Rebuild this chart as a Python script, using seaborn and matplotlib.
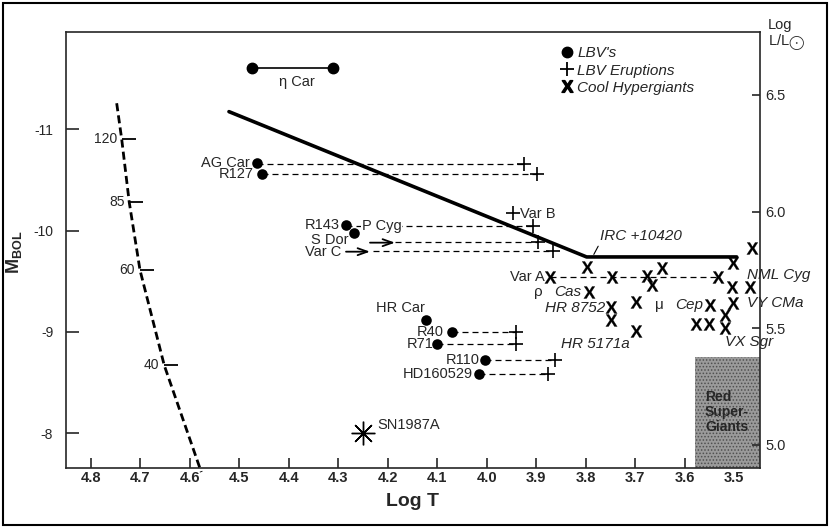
import matplotlib
matplotlib.use('Agg')
import matplotlib.pyplot as plt
from matplotlib.lines import Line2D
from matplotlib.patches import Rectangle
from matplotlib.ticker import FormatStrFormatter
import pandas as pd
import seaborn as sns

# zero-age main sequence track and its mass marks
zams_logt = [4.748, 4.7379, 4.7226, 4.7009, 4.6518, 4.577]
zams_mbol = [-11.257, -10.904, -10.279, -9.611, -8.670, -7.617]
mass_labels = ['120', '85', '60', '40']
mass_logt = [4.7379, 4.7226, 4.7009, 4.6518]
mass_mbol = [-10.904, -10.279, -9.611, -8.670]

# Humphreys-Davidson limit
hd_logt = [4.521, 3.798, 3.4945]
hd_mbol = [-11.174, -9.74, -9.74]

# eta Car
etacar_logt = [4.4747, 4.3117]
etacar_mbol = [-11.60, -11.60]

# LBVs in quiescence
lbv_names = ['AG Car', 'R127', 'R143', 'S Dor', 'HR Car', 'R40', 'R71', 'R110', 'HD160529']
lbv_logt = [4.465, 4.4549, 4.2844, 4.2677, 4.1227, 4.0707, 4.0998, 4.0034, 4.0149]
lbv_mbol = [-10.664, -10.559, -10.055, -9.973, -9.117, -9.002, -8.878, -8.723, -8.584]

# LBV eruptions (connector start -> eruption position)
erup_names = ['AG Car', 'R127', 'P Cyg', 'S Dor', 'Var C', 'Var B', 'R40', 'R71', 'R110', 'HD160529']
erup_start = [4.465, 4.4549, 4.2844, 4.1854, 4.2299, None, 4.0707, 4.0998, 4.0034, 4.0149]
erup_logt = [3.9239, 3.8989, 3.9057, 3.8956, 3.8653, 3.9462, 3.9407, 3.9407, 3.8619, 3.8754]
erup_mbol = [-10.66, -10.559, -10.05, -9.89, -9.795, -10.177, -9.002, -8.878, -8.723, -8.584]

# arrows for S Dor and Var C
arrow_names = ['Var C', 'S Dor']
arrow_start = [4.2844, 4.2359]
arrow_end = [4.2359, 4.1854]
arrow_mbol = [-9.792, -9.881]

# cool hypergiants
hyp_names = ['IRC +10420', 'Var A', '', '', '', '', '', 'Cas', 'HR 8752', '', '', 'HR 5171a',
             'Cep', '', '', '', 'VX Sgr', 'VY CMa', 'NML Cyg', '', '', '']
hyp_logt = [3.7966, 3.872, 3.7472, 3.6765, 3.5329, 3.6461, 3.6664, 3.7925, 3.7486, 3.7486,
            3.6991, 3.6991, 3.5485, 3.5774, 3.5499, 3.5182, 3.5182, 3.5014, 3.5014, 3.5046,
            3.4676, 3.4642]
hyp_mbol = [-9.644, -9.545, -9.545, -9.552, -9.545, -9.634, -9.463, -9.397, -9.246, -9.113,
            -9.292, -9.009, -9.266, -9.075, -9.075, -9.167, -9.036, -9.282, -9.677, -9.446,
            -9.446, -9.831]
vara_logt = [3.872, 3.5329]
vara_mbol = [-9.545, -9.545]

# SN 1987A progenitor
sn_logt = [4.2507]
sn_mbol = [-8.005]

# red supergiant region
rsg_logt_edge = 3.579
rsg_mbol_top = -8.755

xticks = [4.8, 4.7, 4.6, 4.5, 4.4, 4.3, 4.2, 4.1, 4.0, 3.9, 3.8, 3.7, 3.6, 3.5]
yticks = [-11, -10, -9, -8]
lticks = [5.0, 5.5, 6.0, 6.5]

sns.set_style('ticks')
plt.rcParams['font.family'] = ['Liberation Sans', 'DejaVu Sans']
plt.rcParams['mathtext.fontset'] = 'custom'
plt.rcParams['mathtext.rm'] = 'Liberation Sans'
plt.rcParams['mathtext.bf'] = 'Liberation Sans:bold'
plt.rcParams['mathtext.it'] = 'Liberation Sans:italic'
plt.rcParams['axes.unicode_minus'] = False
plt.rcParams['hatch.linewidth'] = 0.7

XMARK = r'$\mathbf{X}$'

fig = plt.figure(figsize=(8.3, 5.28), dpi=100)
ax = fig.add_axes([0.0792, 0.1136, 0.8365, 0.8258])
xlim = (4.851, 3.4474)
ylim = (-7.657, -11.96)

# red supergiants box
ax.fill_betweenx([rsg_mbol_top, ylim[0]], rsg_logt_edge, xlim[1], facecolor='#9a9a9a',
                 edgecolor='#505050', hatch='.....', linewidth=0, zorder=1)
ax.text(rsg_logt_edge - 0.0204, (rsg_mbol_top + ylim[0]) / 2, 'Red\nSuper-\nGiants',
        fontsize=10, fontweight='bold', ha='left', va='center', linespacing=1.1, zorder=2)

# ZAMS track
sns.lineplot(x=zams_logt, y=zams_mbol, sort=False, estimator=None, ax=ax, color='black',
             lw=2.0, zorder=3, clip_on=False)
ax.lines[-1].set_dashes((2.9, 1.5))
ax.plot(mass_logt, mass_mbol, ls='', marker=1, ms=10, mew=1.3, color='black')
for lab, x, y in zip(mass_labels, mass_logt, mass_mbol):
    ax.annotate(lab, (x, y), xytext=(-3.5, 0), textcoords='offset points',
                ha='right', va='center', fontsize=10)

# HD limit
sns.lineplot(x=hd_logt, y=hd_mbol, sort=False, estimator=None, ax=ax, color='black', lw=2.6)

# eta Car
ax.plot(etacar_logt, etacar_mbol, color='black', lw=1.2, marker='o', ms=7.5)
ax.annotate('η Car', (sum(etacar_logt) / 2, etacar_mbol[0]), xytext=(3.5, -10),
            textcoords='offset points', ha='center', va='center', fontsize=10.5)

# eruption connectors
for x0, x1, y in zip(erup_start, erup_logt, erup_mbol):
    if x0 is None:
        continue
    ax.plot([x0, x1], [y, y], color='black', lw=0.9, dashes=(4.8, 3.2), zorder=2)
ax.plot(vara_logt, vara_mbol, color='black', lw=0.9, dashes=(4.8, 3.2), zorder=2)

for x0, x1, y in zip(arrow_start, arrow_end, arrow_mbol):
    ax.annotate('', xy=(x1, y), xytext=(x0, y),
                arrowprops=dict(arrowstyle='->,head_length=0.7,head_width=0.25', lw=1.3,
                                color='black', shrinkA=0, shrinkB=0))

df_lbv = pd.DataFrame({'logt': lbv_logt, 'mbol': lbv_mbol})
df_erup = pd.DataFrame({'logt': erup_logt, 'mbol': erup_mbol})
df_hyp = pd.DataFrame({'logt': hyp_logt, 'mbol': hyp_mbol})

sns.scatterplot(data=df_lbv, x='logt', y='mbol', ax=ax, marker='o', s=58, color='black',
                edgecolor='black', linewidth=0, zorder=5)
sns.scatterplot(data=df_erup, x='logt', y='mbol', ax=ax, marker='+', s=90, color='black',
                linewidth=1.2, zorder=5)
sns.scatterplot(data=df_hyp, x='logt', y='mbol', ax=ax, marker=XMARK, s=75, color='black',
                edgecolor='black', linewidth=0.2, zorder=5)
ax.plot(sn_logt, sn_mbol, ls='', marker=(8, 2, 0), ms=17, mew=1.0, color='black')
ax.annotate('SN1987A', (sn_logt[0], sn_mbol[0]), xytext=(10.8, 5.5), textcoords='offset points',
            ha='left', va='center', fontsize=10.5)

# LBV labels
lbv_off = {'AG Car': (-4.8, 0), 'R127': (-6, 0), 'R143': (-4.3, 0), 'S Dor': (-3.8, -4.8),
           'HR Car': (-0.7, 8.4), 'R40': (-6, 0), 'R71': (-2.9, 0), 'R110': (-3.6, 0),
           'HD160529': (-4.3, 0)}
for name, x, y in zip(lbv_names, lbv_logt, lbv_mbol):
    ax.annotate(name, (x, y), xytext=lbv_off[name], textcoords='offset points',
                ha='right', va='center', fontsize=10.5, zorder=6)

i = erup_names.index('P Cyg')
ax.annotate('P Cyg', (erup_start[i], erup_mbol[i]), xytext=(11.3, 0), textcoords='offset points',
            ha='left', va='center', fontsize=10.5, zorder=6,
            bbox=dict(facecolor='white', edgecolor='none', pad=0.3))
i = erup_names.index('Var B')
ax.annotate('Var B', (erup_logt[i], erup_mbol[i]), xytext=(4.8, -0.7), textcoords='offset points',
            ha='left', va='center', fontsize=10.5)
ax.annotate('Var C', (arrow_start[0], arrow_mbol[0]), xytext=(-3.6, 0), textcoords='offset points',
            ha='right', va='center', fontsize=10.5)

# hypergiant labels
hyp_off = {'Var A': (-3.6, 0, 'right'), 'Cas': (-5.5, 0, 'right'), 'HR 8752': (-4.3, -0.7, 'right'),
           'HR 5171a': (-4, -9.4, 'right'), 'Cep': (-5, 0, 'right'), 'VX Sgr': (0, -10, 'left'),
           'VY CMa': (9.6, 0, 'left'), 'NML Cyg': (9.6, -8.4, 'left')}
greek = {'Cas': 'ρ', 'Cep': 'μ'}
for name, x, y in zip(hyp_names, hyp_logt, hyp_mbol):
    if name == '':
        continue
    if name == 'IRC +10420':
        ax.annotate(name, (x, y), xytext=(9.1, 17.1), textcoords='offset points',
                    ha='left', va='bottom', fontsize=11, style='italic',
                    arrowprops=dict(arrowstyle='-', lw=0.8, color='black', relpos=(0, 0),
                                    shrinkA=0, shrinkB=10))
        continue
    dx, dy, ha = hyp_off[name]
    style = 'normal' if name == 'Var A' else 'italic'
    ax.annotate(name, (x, y), xytext=(dx, dy), textcoords='offset points',
                ha=ha, va='center', fontsize=11 if style == 'italic' else 10.5, style=style)
    if name in greek:
        ax.annotate(greek[name], (x, y), xytext=(-33.3, dy), textcoords='offset points',
                    ha='right', va='center', fontsize=11)

# legend
handles = [Line2D([], [], ls='', marker='o', ms=7.5, color='black'),
           Line2D([], [], ls='', marker='+', ms=10, mew=1.3, color='black'),
           Line2D([], [], ls='', marker=XMARK, ms=8.5, color='black')]
ax.legend(handles, ["LBV's", 'LBV Eruptions', 'Cool Hypergiants'], loc='upper left',
          bbox_to_anchor=(0.7128, 0.967), frameon=False, prop={'style': 'italic', 'size': 11},
          handlelength=0.8, handletextpad=0.3, borderpad=0, borderaxespad=0, labelspacing=0.21)

# axes
ax.set_xlim(*xlim)
ax.set_ylim(*ylim)
ax.set_xticks(xticks)
ax.set_yticks(yticks)
ax.xaxis.set_major_formatter(FormatStrFormatter('%.1f'))
ax.tick_params(axis='x', direction='in', length=7, width=1.2, pad=2, labelsize=10.5,
               top=False)
ax.tick_params(axis='y', direction='in', length=9.5, width=1.2, pad=9, labelsize=10,
               right=False)
for lab in ax.get_xticklabels():
    lab.set_fontweight('bold')
for sp in ax.spines.values():
    sp.set_linewidth(1.2)
    sp.set_visible(True)
ax.set_xlabel('Log T', fontsize=14, fontweight='bold', labelpad=6)
ax.set_ylabel('')
fig.text(14 / 830, 1 - 252 / 528, r'$\mathbf{M}_{\mathbf{BOL}}$', rotation=90, fontsize=13,
         ha='center', va='center')

ax2 = ax.twinx()
ax2.set_ylim(4.901, 6.770)
ax2.set_yticks(lticks)
ax2.yaxis.set_major_formatter(FormatStrFormatter('%.1f'))
ax2.tick_params(axis='y', direction='in', length=6, width=1.2, pad=4, labelsize=10.5)
for sp in ax2.spines.values():
    sp.set_visible(False)
ax2.text(1.0116, 1.016, 'Log', transform=ax2.transAxes, ha='left', va='center', fontsize=10.5)
ax2.text(1.0116, 0.975, r'L/L$_{\bigodot}$', transform=ax2.transAxes, ha='left', va='center',
         fontsize=10.5)

fig.patches.append(Rectangle((0.004, 0.006), 0.992, 0.988, transform=fig.transFigure,
                             fill=False, edgecolor='black', linewidth=1.5))

fig.savefig('out.png', dpi=100)
